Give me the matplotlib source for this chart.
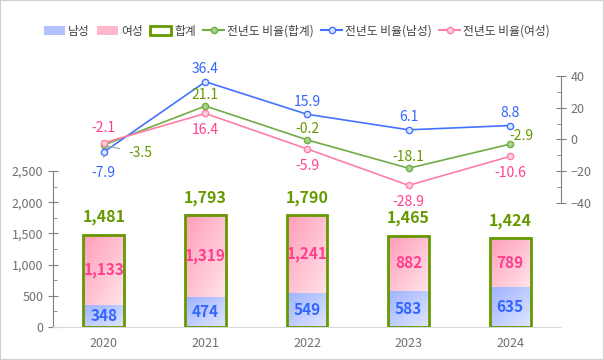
import numpy as np
import matplotlib.pyplot as plt
from matplotlib.patches import Rectangle, Patch
from matplotlib.lines import Line2D
from matplotlib.colors import LinearSegmentedColormap

plt.rcParams['font.family'] = ['Noto Sans CJK KR', 'DejaVu Sans']

years = ['2020', '2021', '2022', '2023', '2024']
male = [348, 474, 549, 583, 635]
female = [1133, 1319, 1241, 882, 789]
total = [1481, 1793, 1790, 1465, 1424]
rate_total = [-3.5, 21.1, -0.2, -18.1, -2.9]
rate_male = [-7.9, 36.4, 15.9, 6.1, 8.8]
rate_female = [-2.1, 16.4, -5.9, -28.9, -10.6]

GREEN = '#669900'
BLUE = '#3366ff'
PINK = '#ff3f8e'
GRAY = '#808080'

fig = plt.figure(figsize=(6.04, 3.6), dpi=100)
fig.patches.append(Rectangle((0, 0), 1, 1, transform=fig.transFigure, fill=False,
                             edgecolor='#d0d0d0', lw=1.5))

# bar axes (lower part)
axb = fig.add_axes([53 / 604, 33 / 360, 508 / 604, 156 / 360])
x = np.arange(len(years))
w = 0.4

pink_cm = LinearSegmentedColormap.from_list('p', ['#ff9db9', '#ffe3ea'])
blue_cm = LinearSegmentedColormap.from_list('b', ['#9fb2ff', '#dfe6ff'])
gx, gy = np.meshgrid(np.linspace(0, 1, 40), np.linspace(0, 1, 40))
grad = (gx + gy) / 2

for i in x:
    axb.imshow(grad, cmap=blue_cm, extent=(i - w / 2, i + w / 2, 0, male[i]),
               origin='upper', aspect='auto', zorder=2)
    axb.imshow(grad, cmap=pink_cm, extent=(i - w / 2, i + w / 2, male[i], total[i]),
               origin='upper', aspect='auto', zorder=2)
    axb.add_patch(Rectangle((i - w / 2, 0), w, total[i], fill=False, edgecolor=GREEN,
                            lw=2, zorder=3))
    axb.text(i, male[i] / 2, f'{male[i]:,}', ha='center', va='center', color=BLUE,
             fontsize=11, fontweight='bold', zorder=4)
    axb.text(i, male[i] + female[i] / 2, f'{female[i]:,}', ha='center', va='center',
             color=PINK, fontsize=11, fontweight='bold', zorder=4)
    axb.text(i, total[i] + 150, f'{total[i]:,}', ha='center', va='bottom', color=GREEN,
             fontsize=11.5, fontweight='bold', zorder=4)

axb.set_xlim(-0.5, 4.5)
axb.set_ylim(0, 2500)
axb.set_yticks(range(0, 2501, 500))
axb.set_yticklabels([f'{v:,}' for v in range(0, 2501, 500)])
axb.set_yticks(range(250, 2500, 500), minor=True)
axb.set_xticks(x)
axb.set_xticklabels(years)
axb.patch.set_alpha(0)
for s in ['top', 'right']:
    axb.spines[s].set_visible(False)
axb.spines['left'].set_color(GRAY)
axb.spines['bottom'].set_color('#d9d9d9')
axb.tick_params(axis='y', which='major', direction='inout', length=7, color=GRAY,
                labelcolor='#707070', labelsize=9)
axb.tick_params(axis='y', which='minor', direction='in', length=3, color=GRAY)
axb.tick_params(axis='x', length=0, labelcolor='#707070', labelsize=9, pad=7)

# line axes (upper part)
axl = fig.add_axes([53 / 604, 157 / 360, 508 / 604, 127 / 360])
axl.patch.set_alpha(0)
axl.plot(x, rate_total, color='#70ad47', lw=1.2, marker='o', ms=4.5, mfc='#a9d18e',
         mec='#70ad47', zorder=3)
axl.plot(x, rate_male, color='#4472ff', lw=1.2, marker='o', ms=4.5, mfc='#dfe6ff',
         mec='#4472ff', zorder=3)
axl.plot(x, rate_female, color='#ff7fa5', lw=1.2, marker='o', ms=4.5, mfc='#ffd0dd',
         mec='#ff7fa5', zorder=3)
axl.set_xlim(-0.5, 4.5)
axl.set_ylim(-40, 40)
axl.set_yticks(range(-40, 41, 20))
axl.set_yticks(range(-30, 40, 20), minor=True)
axl.yaxis.tick_right()
for s in ['top', 'left', 'bottom']:
    axl.spines[s].set_visible(False)
axl.spines['right'].set_color(GRAY)
axl.set_xticks([])
axl.tick_params(axis='y', which='major', direction='inout', length=7, color=GRAY,
                labelcolor='#707070', labelsize=9)
axl.tick_params(axis='y', which='minor', direction='in', length=3, color=GRAY)

fs = 10
# label offsets in points (dx, dy)
off_male = [(0, 0), (0, 9), (0, 9), (0, 9), (0, 9)]
off_total = [(0, 0), (0, 8), (0, 8), (0, 8), (8, 6)]
off_female = [(0, 0), (0, -12), (0, -12), (0, -12), (0, -12)]
for i in range(1, 5):
    axl.annotate(f'{rate_male[i]}', (i, rate_male[i]), xytext=off_male[i],
                 textcoords='offset points', ha='center', va='center', color=BLUE, fontsize=fs)
    axl.annotate(f'{rate_total[i]}', (i, rate_total[i]), xytext=off_total[i],
                 textcoords='offset points', ha='center', va='center', color=GREEN, fontsize=fs)
    axl.annotate(f'{rate_female[i]}', (i, rate_female[i]), xytext=off_female[i],
                 textcoords='offset points', ha='center', va='center', color=PINK, fontsize=fs)

lead = dict(arrowstyle='-', color='#a6a6a6', lw=0.8, shrinkA=4, shrinkB=2)
axl.annotate(f'{rate_female[0]}', (0, rate_female[0]), xytext=(0, 11),
             textcoords='offset points', ha='center', va='center', color=PINK, fontsize=fs)
axl.annotate(f'{rate_total[0]}', (0, rate_total[0]), xytext=(26, -6),
             textcoords='offset points', ha='center', va='center', color=GREEN, fontsize=fs,
             arrowprops=lead)
axl.annotate(f'{rate_male[0]}', (0, rate_male[0]), xytext=(0, -15),
             textcoords='offset points', ha='center', va='center', color=BLUE, fontsize=fs,
             arrowprops=lead)

handles = [
    Patch(facecolor='#b3c2ff', edgecolor='none', label='남성'),
    Patch(facecolor='#ffb8cb', edgecolor='none', label='여성'),
    Patch(facecolor='white', edgecolor=GREEN, lw=2, label='합계'),
    Line2D([], [], color='#70ad47', marker='o', ms=4.5, mfc='#a9d18e', mec='#70ad47',
           label='전년도 비율(합계)'),
    Line2D([], [], color='#4472ff', marker='o', ms=4.5, mfc='#dfe6ff', mec='#4472ff',
           label='전년도 비율(남성)'),
    Line2D([], [], color='#ff7fa5', marker='o', ms=4.5, mfc='#ffd0dd', mec='#ff7fa5',
           label='전년도 비율(여성)'),
]
fig.legend(handles=handles, loc='center', bbox_to_anchor=(297 / 604, 1 - 31 / 360), ncol=6,
           frameon=False, fontsize=8.5, handlelength=1.8, handletextpad=0.25,
           columnspacing=0.6, labelcolor='#404040')

fig.savefig('out.png', dpi=100)
